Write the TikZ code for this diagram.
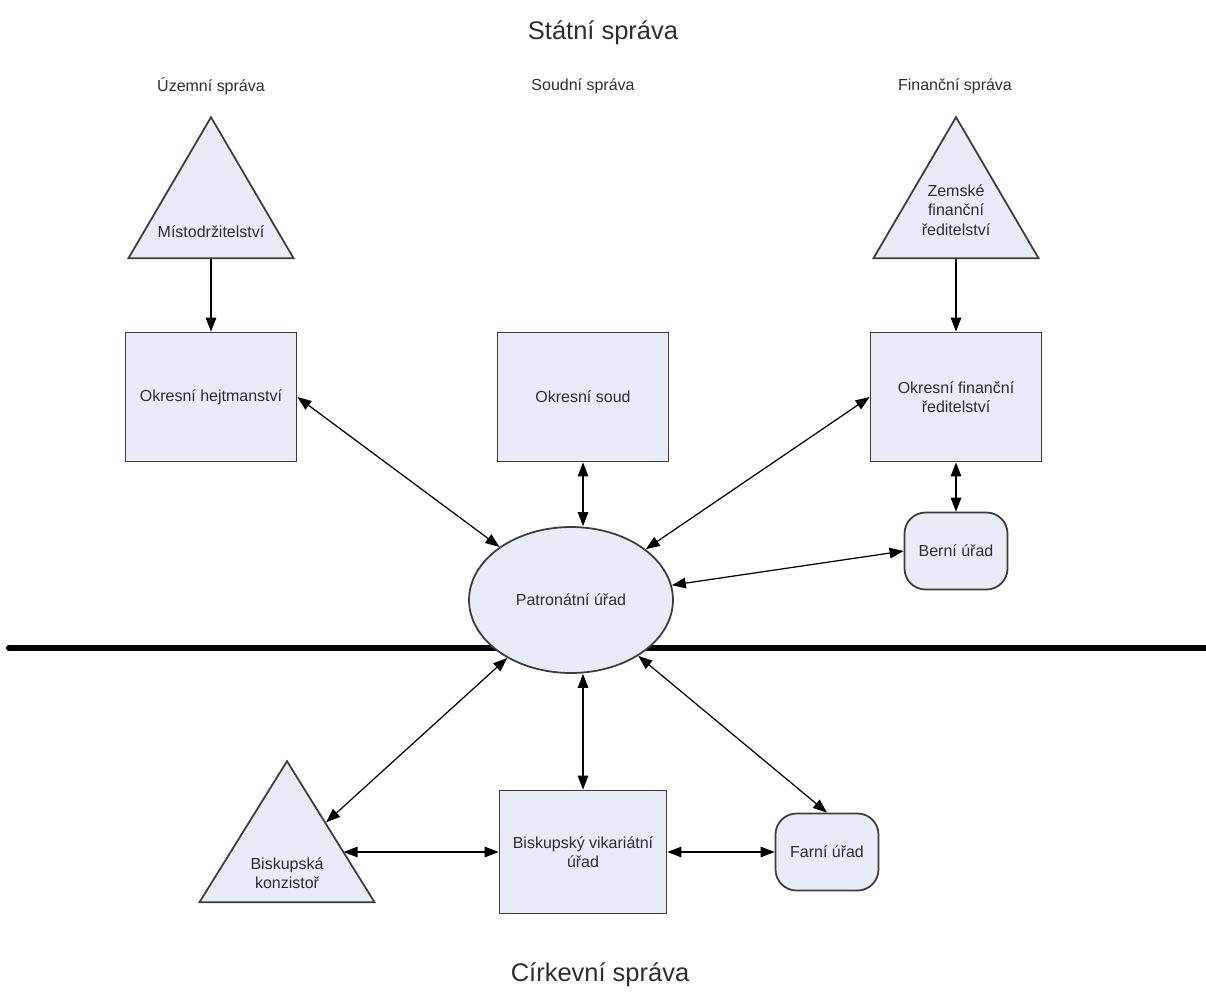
\documentclass[tikz,border=0pt]{standalone}
\usepackage{fontspec}
\setmainfont{Liberation Sans}
\usepackage{tikz}
\usetikzlibrary{arrows.meta,shapes.geometric,calc}

\definecolor{boxfill}{RGB}{232,236,247}
\definecolor{boxline}{RGB}{60,60,60}
\definecolor{txt}{RGB}{45,45,50}

\begin{document}
\begin{tikzpicture}[x=0.02cm,y=-0.02cm,
    font=\fontsize{9.1}{11}\selectfont, text=txt,
    office/.style={draw=boxline,line width=1pt,fill=boxfill,rectangle,minimum width=3.42cm,minimum height=2.58cm,align=center},
    smalloffice/.style={draw=boxline,line width=1pt,fill=boxfill,rectangle,rounded corners=0.42cm,minimum width=2.06cm,minimum height=1.54cm},
    summit/.style={draw=boxline,line width=1pt,fill=boxfill,isosceles triangle,isosceles triangle stretches,shape border rotate=90,minimum width=3.3cm,minimum height=2.82cm,inner sep=0pt},
    link/.style={line width=0.7pt,{Triangle[length=8pt,width=6pt]}-{Triangle[length=8pt,width=6pt]}},
    onelink/.style={line width=0.7pt,-{Triangle[length=8pt,width=6pt]}}]
    \useasboundingbox (0,0) rectangle (1206,992);
    % Titles
    \node[font=\fontsize{14.5}{17}\selectfont] (statni) at (603,33) {Státní správa};
    \node[font=\fontsize{14.5}{17}\selectfont] (cirkevni) at (600,975) {Církevní správa};
    % Column headings
    \node (uzemni) at (211,86) {Územní správa};
    \node (soudni) at (583,86) {Soudní správa};
    \node (financni) at (955,86) {Finanční správa};
    % Dividing line between state and church (behind the ellipse)
    \draw[line width=3.4pt,line cap=round] (9,648) -- (1206,648);
    % Upper level: triangles
    \node[summit,anchor=lower side] (misto) at (211,259) {};
    \node (misto-t) at (211,232) {Místodržitelství};
    \node[summit,anchor=lower side] (zemske) at (956,259) {};
    \node[align=center] (zemske-t) at (956,210) {Zemské\\finanční\\ředitelství};
    % District offices
    \node[office] (hejt) at (211,397) {Okresní hejtmanství};
    \node[office] (soud) at (583,397) {Okresní soud};
    \node[office] (fin) at (956,397) {Okresní finanční\\ředitelství};
    \node[smalloffice] (berni) at (956,551) {Berní úřad};
    % Patronage office
    \node[draw=boxline,line width=1pt,fill=boxfill,ellipse,minimum width=4.08cm,minimum height=2.92cm] (pat) at (571,600) {Patronátní úřad};
    % Church side
    \node[summit,anchor=lower side,minimum width=3.5cm] (kon) at (287,903) {};
    \node[align=center] (kon-t) at (287,873) {Biskupská\\konzistoř};
    \node[office,minimum width=3.34cm,minimum height=2.46cm] (vik) at (583,852) {Biskupský vikariátní\\úřad};
    \node[smalloffice] (far) at (827,852) {Farní úřad};
    % One-way arrows
    \draw[onelink] (misto.lower side) -- (hejt.north);
    \draw[onelink] (zemske.lower side) -- (fin.north);
    % Two-way arrows
    \draw[link] (hejt.east) -- (pat);
    \draw[link] (soud.south) -- (soud.south |- pat.north);
    \draw[link] (fin.west) -- (pat);
    \draw[link] (fin.south) -- (berni.north);
    \draw[link] (berni.west) -- (pat);
    \draw[link] (vik.north |- pat.south) -- (vik.north);
    \draw[link] (pat) -- ($(kon.apex)!0.44!(kon.right corner)$);
    \draw[link] (pat) -- (far.north);
    \draw[link] (vik.west -| kon.right side) ++(12,0) coordinate (kon-r) (kon-r) -- (vik.west);
    \draw[link] (vik.east) -- (far.west);
\end{tikzpicture}
\end{document}
